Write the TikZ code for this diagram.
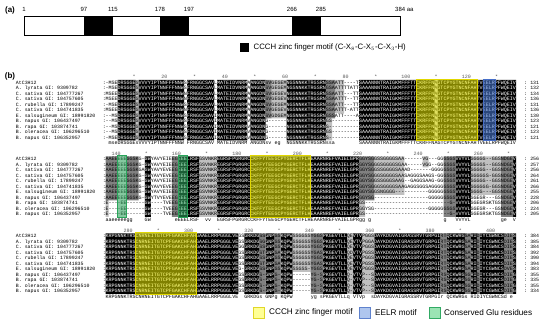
\documentclass[tikz,border=0pt]{standalone}
\usepackage{fontspec}
\setmainfont{Liberation Sans}
\setmonofont{Liberation Mono}
\definecolor{dgr}{RGB}{128,128,128}
\definecolor{lgr}{RGB}{192,192,192}
\definecolor{hlY}{RGB}{255,255,0}
\definecolor{hlYd}{RGB}{225,215,0}
\definecolor{hlB}{RGB}{80,130,225}
\definecolor{hlBd}{RGB}{70,110,200}
\definecolor{hlG}{RGB}{60,210,120}
\definecolor{hlGd}{RGB}{40,165,90}
\definecolor{lgY}{RGB}{255,255,150}
\definecolor{lgYd}{RGB}{225,215,40}
\definecolor{lgB}{RGB}{175,198,238}
\definecolor{lgBd}{RGB}{95,130,205}
\definecolor{lgG}{RGB}{155,228,180}
\definecolor{lgGd}{RGB}{50,170,100}
\tikzset{
  sq/.style={anchor=base west,inner sep=0pt,outer sep=0pt,font=\ttfamily\fontsize{5.03pt}{6pt}\selectfont},
  nm/.style={anchor=base west,inner sep=0pt,outer sep=0pt,font=\ttfamily\fontsize{4.9pt}{6pt}\selectfont},
  ru/.style={anchor=base,inner sep=0pt,outer sep=0pt,text=black!65,font=\ttfamily\fontsize{5pt}{6pt}\selectfont},
  hly/.style={fill=hlY,fill opacity=0.5,draw=hlYd,line width=0.8pt},
  hlb/.style={fill=hlB,fill opacity=0.55,draw=hlBd,line width=0.8pt},
  hlg/.style={fill=hlG,fill opacity=0.45,draw=hlGd,line width=0.8pt},
  nums/.style={inner sep=0pt,font=\fontsize{6pt}{7pt}\selectfont},
  lgt/.style={anchor=west,inner sep=0pt,font=\fontsize{8.2pt}{9pt}\selectfont},
  lgta/.style={anchor=west,inner sep=0pt,font=\fontsize{7.8pt}{9pt}\selectfont},
  plabel/.style={inner sep=0pt,font=\bfseries\fontsize{8pt}{9pt}\selectfont}
}
% ---- sequence pieces
\def\dX{----------}
\def\tX{~~~~~~~~~~}
% block 1
\def\Ba{DRSGGE}\def\Bb{VVVYIPTNNFFFNNW}\def\Bc{FRNGGCSAV}\def\Bd{MATEIDVNRM}
\def\Be{ANGDN}\def\Bf{NGSNNKKTRGSRN}\def\Bg{SAAANNNTRAIGKMFFFTT}
\def\Bh{CKRFFNAGTCPYGTNCNFAH}\def\Bi{TVEELRPFWQEIV}
\newcommand\rowB[7]{#1\Ba#2\Bb#3\Bc#4\Bd#5\Be#6\Bf#7\Bg\Bh\Bi}
% block 2
\def\Ca{GW}\def\Cb{EEE}\def\Cc{LRSF}\def\Cd{EGRSFPGRGRC}
\def\Ce{CKFFYTEEGCPYGERCTFLH}\def\Cf{EAARNREFVAIELGPR}\def\Cg{VVYVL}
\newcommand\rowC[5]{#1\Ca#2\Cb\Cc#3\Cd\Ce\Cf#4\Cg#5}
% block 3
\def\Ea{KRPGNNKTRS}\def\Eb{CNRNEITGTCPFGAKCHFAH}\def\Ec{GAAELRRPGGGLVE}
\def\Ed{GRKDG}\def\Ee{GNP}\def\Ef{KQPW}\def\Eg{PKGEVTLL}\def\Eh{VTV}\def\Ei{DA}
\def\Ej{YKDGVAIGRASSRVTGRPGI}\def\Ek{QCKWRG}\def\El{RID}\def\Em{IYCGWNCS}
\newcommand\rowE[9]{\Ea\Eb\Ec#1\Ed#2\Ee#3\Ef#4\Eg#5\Eh#6\Ei\Ej#7\Ek#8\El\Em#9}
% row drawing
\newcommand\seqrow[5]{%
  \node[nm] (#1n#2) at (-29.64,{#2+0.78}) {#3};
  \node[nm] (#1k#2) at (-0.9,{#2+0.78}) {:};
  \node[sq] (#1s#2) at (0,{#2+0.78}) {#4};
  \node[nm] (#1e#2) at (138.7,{#2+0.78}) {: #5};}
% block contents
\newcommand\blockone{%
\seqrow{a}{0}{AtC3H12}{\rowB{-MSE}{S}{S}{L}{A}{SVGEGEM}{SSAATT----T}}{131}
\seqrow{a}{1}{A. lyrata GI: 9309782}{\rowB{-MSE}{S}{S}{L}{A}{SVGEGEM}{GSAATTTTATT}}{132}
\seqrow{a}{2}{C. sativa GI: 104777267}{\rowB{MSEE}{G}{N}{L}{A}{SVGEGEV}{SSAATT---TT}}{134}
\seqrow{a}{3}{C. sativa GI: 104757605}{\rowB{MSEE}{G}{N}{L}{A}{SVGEGEV}{SSAATTT--TT}}{136}
\seqrow{a}{4}{C. rubella GI: 17899247}{\rowB{-MSE}{S}{S}{L}{A}{SVGEGEM}{SSAATT---TT}}{131}
\seqrow{a}{5}{C. sativa GI: 104741835}{\rowB{MSEE}{G}{N}{L}{A}{SVGEGEV}{SSAATTT-ATT}}{136}
\seqrow{a}{6}{E. salsugineum GI: 18991820}{\rowB{--MS}{G}{S}{I}{A}{SVGDGEM}{GSSATT----A}}{130}
\seqrow{a}{7}{B. napus GI: 106437497}{\rowB{--MS}{G}{S}{I}{V}{G------}{GS---------}}{123}
\seqrow{a}{8}{B. rapa GI: 103874741}{\rowB{--MS}{G}{S}{I}{V}{G------}{S----------}}{121}
\seqrow{a}{9}{B. oleracea GI: 106296510}{\rowB{--MS}{G}{S}{I}{V}{G------}{GS---------}}{123}
\seqrow{a}{10}{B. napus GI: 106352957}{\rowB{-MSE}{G}{S}{I}{V}{G------}{S----------}}{121}}
\newcommand\blocktwo{%
\seqrow{b}{0}{AtC3H12}{\rowC{AAEEEEEGGSKG-}{YAVYEIEEG}{GSVNKR}{GGYSGGSSGGGGSAA------VG---GGGSGS}{GGGGG--GGSNDGEV}}{256}
\seqrow{b}{1}{A. lyrata GI: 9309782}{\rowC{AAEEEEEGGSKG-}{YAVYEIEEG}{GSVNKR}{GGYSGGGSGGGGSGAA-----VGG--GGGSGS}{GGGGS--GGSNDGEV}}{257}
\seqrow{b}{2}{C. sativa GI: 104777267}{\rowC{AAEEEEEGGSKGA}{YAVYEVEEG}{GSVNKR}{GGYSGGSSGGGGSAAAD-------GGGGGSGS}{GGGGG--GGSNDGEV}}{256}
\seqrow{b}{3}{C. sativa GI: 104757605}{\rowC{AAEEEEEGGSKG-}{YAVYEVEEG}{GSVNKR}{GGYSGGGSGGGGSAASAGGGSAAGS-GGGSGS}{GGGGGS-GGSNDGEV}}{264}
\seqrow{b}{4}{C. rubella GI: 17899247}{\rowC{AAEEEEEGGSKG-}{YAVYEIEEG}{GSVNKR}{GGYSGGSSGGGSAAG--GAGGSAAG-GGGSGS}{GGGGG--GGSNDGEV}}{261}
\seqrow{b}{5}{C. sativa GI: 104741835}{\rowC{AAEEEEEGGSKG-}{YAVYEVEEG}{GSVNKR}{GGYSGGGSGGGGSAAGAGGSGGSAGGGGGSGS}{GGGGGG-GGSNDGEV}}{266}
\seqrow{b}{6}{E. salsugineum GI: 18991820}{\rowC{AAEEEEEGGSKG-}{YAVYEIEEG}{GSVNKR}{GGYSGGSNGGGG-----------GGGGGGSGS}{GGGG---GGSNDGEV}}{255}
\seqrow{b}{7}{B. napus GI: 106437497}{\rowC{AAEEEEEGGSKG-}{YTVYEVEEG}{GSVNKR}{GGYSG\dX--------GGGGGGSGS}{GGEGR---GSNDGEV}}{228}
\seqrow{b}{8}{B. rapa GI: 103874741}{\rowC{E----EE------}{----TVEEG}{GSVNKR}{GS\dX\dX--------G-}{GGEGRSKTGSNDGEV}}{206}
\seqrow{b}{9}{B. oleracea GI: 106296510}{\rowC{E----EE------}{----TVEEG}{GSVNKR}{GGYSG\dX--------GGGGGGSGS}{GGEGR---GSNDGEV}}{224}
\seqrow{b}{10}{B. napus GI: 106352957}{\rowC{E----EE------}{----TVEEG}{GSVNKR}{GS\dX\dX--------G-}{GGEGRSKTGSNDGEV}}{205}}
\newcommand\blockthree{%
\seqrow{c}{0}{AtC3H12}{\rowE{GS}{SS}{GS}{SSGGSSYGGS}{QE}{PGGS}{RT}{SA}{DIES}}{384}
\seqrow{c}{1}{A. lyrata GI: 9309782}{\rowE{GS}{SG}{GS}{SSGGSSYGGS}{QE}{PGGA}{RT}{SA}{DIES}}{385}
\seqrow{c}{2}{C. sativa GI: 104777267}{\rowE{GG}{SS}{GS}{SSGGGSYGGS}{QE}{PGGS}{RT}{SA}{DIES}}{384}
\seqrow{c}{3}{C. sativa GI: 104757605}{\rowE{GS}{ST}{GA}{GSGGSSYGAS}{QD}{PGSS}{RT}{SA}{DIES}}{392}
\seqrow{c}{4}{C. rubella GI: 17899247}{\rowE{GS}{SS}{GS}{SSGGSSYGGS}{QE}{PGGS}{RT}{SA}{DIES}}{390}
\seqrow{c}{5}{C. sativa GI: 104741835}{\rowE{GS}{ST}{GA}{GSGGSSYGAS}{QE}{PGSS}{RT}{SA}{DIES}}{394}
\seqrow{c}{6}{E. salsugineum GI: 18991820}{\rowE{G-}{SS}{GS}{SSGSS-YGGS}{QE}{PGGS}{RT}{SA}{DVES}}{383}
\seqrow{c}{7}{B. napus GI: 106437497}{\rowE{GS}{S-}{G-}{------YG-S}{Q-}{P--S}{RS}{SG}{DIEG}}{355}
\seqrow{c}{8}{B. rapa GI: 103874741}{\rowE{GS}{S-}{G-}{------YG-S}{Q-}{P--S}{RS}{SG}{DIEG}}{335}
\seqrow{c}{9}{B. oleracea GI: 106296510}{\rowE{GS}{S-}{G-}{------YG-S}{Q-}{P--S}{RS}{SG}{DIEG}}{355}
\seqrow{c}{10}{B. napus GI: 106352957}{\rowE{GS}{S-}{G-}{------YG-S}{Q-}{P--S}{RS}{SG}{DIEG}}{334}}
% shading lists  c1/c2/r1/r2
\def\blkA{5/10/0/10,12/26/0/10,28/36/0/10,38/47/0/10,49/53/0/10,61/73/0/10,85/109/0/10,111/136/0/10}
\def\dgA{54/55/0/6,74/76/0/6}
\def\lgA{11/11/0/10,56/60/0/6,77/79/0/5,74/75/7/10,110/110/0/10}
\def\blkB{14/15/0/10,25/31/0/10,38/84/0/10,117/121/0/10,136/136/0/10}
\def\dgB{1/4/0/7,8/11/0/7,23/24/0/10,85/89/0/7,113/116/0/10,132/135/0/10}
\def\lgB{5/7/0/10,32/37/0/10,90/99/0/6,122/131/0/6,1/1/8/10,85/86/8/10,106/107/0/1}
\def\blkC{1/44/0/10,47/51/0/10,54/56/0/10,59/62/0/10,73/80/0/10,83/85/0/10,90/111/0/10,114/119/0/10,122/123/0/10,125/132/0/10,136/136/0/10}
\def\dgC{52/53/0/10,57/58/0/10,69/72/0/10,112/113/0/10,120/121/0/10,124/124/0/10,133/135/0/10}
\def\lgC{63/68/0/6,81/82/0/10,86/89/0/10}
\newcommand\shadeblock[4]{% black, dark grey, light grey lists, contents macro
  \fill[lgr] \foreach \a/\b/\r/\s in #3 {({\a-1},\r) rectangle (\b,{\s+1})};
  \fill[dgr] \foreach \a/\b/\r/\s in #2 {({\a-1},\r) rectangle (\b,{\s+1})};
  #4
  \begin{scope}[blend mode=difference]
    \fill[white] \foreach \a/\b/\r/\s in #1 {({\a-1},\r) rectangle (\b,{\s+1})};
  \end{scope}}
\begin{document}
\begin{tikzpicture}[x=1pt,y=-1pt]
\fill[white] (0,0) rectangle (550,325);
\useasboundingbox (0,0) rectangle (550,325);
% ================= (a)
\node[plabel] (pa) at (10,10) {(a)};
\fill[black] (84,16) rectangle (113,35);
\fill[black] (160,16) rectangle (189,35);
\fill[black] (292,16) rectangle (321,35);
\draw[line width=0.7pt] (24,16) rectangle (400,35);
\node[nums] (n1) at (24,9.5) {1};
\node[nums] (n97) at (84,9.5) {97};
\node[nums] (n115) at (113,9.5) {115};
\node[nums] (n178) at (160,9.5) {178};
\node[nums] (n197) at (189,9.5) {197};
\node[nums] (n266) at (292,9.5) {266};
\node[nums] (n285) at (321,9.5) {285};
\node[nums,anchor=west] (n384) at (395,9.5) {384 aa};
\fill[black] (240,42.5) rectangle (249,51.5);
\node[lgta] (lga) at (253.5,47) {CCCH zinc finger motif (C-X$_{8}$-C-X$_{5}$-C-X$_{3}$-H)};
% ================= (b)
\node[plabel] (pb) at (10,76) {(b)};
% block 1
\begin{scope}[shift={(105.5,79.75)},x=3.02pt,y=-5.5pt]
  \shadeblock{\blkA}{\dgA}{\lgA}{\blockone}
  \node[sq] (acons) at (0,11.78) {\rowB{~mse}{s}{~}{~}{~}{sv~eg~~}{ssa~~~~~~~~}};
  \foreach \c/\t in {10/*,20/20,30/*,40/40,50/*,60/60,70/*,80/80,90/*,100/100,110/*,120/120,130/*}
    \node[ru] (aru\c) at ({\c-0.5},-0.22) {\t};
  \draw[hly] (103,-0.1) rectangle (123,11.1);
  \draw[hlb] (125,-0.1) rectangle (129,11.1);
\end{scope}
% block 2
\begin{scope}[shift={(105.5,156.25)},x=3.02pt,y=-5.5pt]
  \shadeblock{\blkB}{\dgB}{\lgB}{\blocktwo}
  \node[sq] (bcons) at (0,11.78) {\rowC{aaeeeeegg~~~~}{~~~~~~~~e}{~~vv~~}{gg~g~\tX\tX~~~g~~~}{\tX ge~~V}};
  \foreach \c/\t in {4/140,14/*,24/160,34/*,44/180,54/*,64/200,74/*,84/220,94/*,104/240,114/*,124/260,134/*}
    \node[ru] (bru\c) at ({\c-0.5},-0.22) {\t};
  \draw[hlg] (4,-0.1) rectangle (7,11.1);
  \draw[hlg] (24,-0.1) rectangle (27,11.1);
  \draw[hly] (48,-0.1) rectangle (68,11.1);
\end{scope}
% block 3
\begin{scope}[shift={(105.5,233.25)},x=3.02pt,y=-5.5pt]
  \shadeblock{\blkC}{\dgC}{\lgC}{\blockthree}
  \node[sq] (ccons) at (0,11.78) {\rowE{~~}{s~}{g~}{~~~~~~yg~s}{q~}{p~~s}{r~}{s~}{d~e~}};
  \foreach \c/\t in {8/280,18/*,28/300,38/*,48/320,58/*,68/340,78/*,88/360,98/*,108/380,118/*,128/400}
    \node[ru] (cru\c) at ({\c-0.5},-0.22) {\t};
  \draw[hly] (10,-0.1) rectangle (30,11.1);
\end{scope}
% legend
\draw[fill=lgY,draw=lgYd,line width=0.8pt] (253,307.5) rectangle (264,318);
\node[lgt] (lg1) at (269,312.7) {CCCH zinc finger motif};
\draw[fill=lgB,draw=lgBd,line width=0.8pt] (359,307.5) rectangle (370,318);
\node[lgt] (lg2) at (375,312.7) {EELR motif};
\draw[fill=lgG,draw=lgGd,line width=0.8pt] (429,307.5) rectangle (440,318);
\node[lgt] (lg3) at (444,312.7) {Conserved Glu residues};
\end{tikzpicture}
\end{document}
